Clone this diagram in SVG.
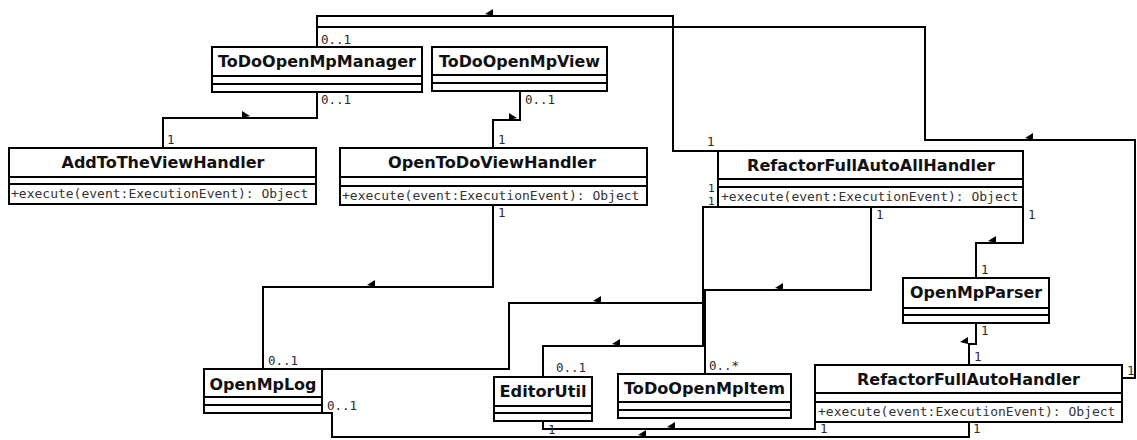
<svg xmlns="http://www.w3.org/2000/svg" xmlns:xlink="http://www.w3.org/1999/xlink" width="1137" height="440" viewBox="0 0 1137 440">
<style>
.box{fill:#fff;stroke:#000;stroke-width:2}
.sep{stroke:#000;stroke-width:2}
.title{font-family:"DejaVu Sans",sans-serif;font-weight:bold;font-size:16px;fill:#111;text-anchor:middle}
.op{font-family:"DejaVu Sans Mono","Liberation Mono",monospace;font-size:13px;fill:#333}
.lbl{font-family:"DejaVu Sans Mono","Liberation Mono",monospace;font-size:12.5px;fill:#2a2a2a}
.sm{font-size:11px}
.conn{fill:none;stroke:#000;stroke-width:2}
.ah{fill:#000}
</style>
<defs>
<polygon id="al" points="-4,-2 4,-7 4,0"/>
<polygon id="ar" points="4,-2 -4,-7 -4,0"/>
</defs>
<rect width="1137" height="440" fill="#fff"/>
<g id="connectors">
<path class="conn" d="M317,47 V16 H673 V151 H718"/>
<path class="conn" d="M317,27 H925 V140 H1135 V378 H1122"/>
<path class="conn" d="M317,92 V118 H163 V148"/>
<path class="conn" d="M520,91 V120 H493 V148"/>
<path class="conn" d="M493,205 V287 H263 V369"/>
<path class="conn" d="M322,369 H509 V303 H703 V207 H718"/>
<path class="conn" d="M543,377 V346 H703 V207"/>
<path class="conn" d="M705,374 V290 H871 V207"/>
<path class="conn" d="M1023,207 V243 H976 V278"/>
<path class="conn" d="M976,323 V344 H969 V365"/>
<path class="conn" d="M815,422 V429 H543 V421"/>
<path class="conn" d="M322,413 H332 V437 H969 V422"/>
<g class="ah">
<use xlink:href="#al" x="489" y="16"/>
<use xlink:href="#al" x="1029" y="140"/>
<use xlink:href="#ar" x="246" y="118"/>
<use xlink:href="#ar" x="513" y="120"/>
<use xlink:href="#al" x="371" y="287"/>
<use xlink:href="#al" x="597" y="303"/>
<use xlink:href="#al" x="616" y="346"/>
<use xlink:href="#al" x="779" y="290"/>
<use xlink:href="#al" x="992" y="243"/>
<use xlink:href="#al" x="964" y="344"/>
<use xlink:href="#al" x="671" y="429"/>
<use xlink:href="#al" x="642" y="437"/>
</g>
<g class="lbl">
<text x="321" y="44">0..1</text>
<text x="321" y="104">0..1</text>
<text x="525" y="104">0..1</text>
<text x="167" y="144">1</text>
<text x="498" y="144">1</text>
<text x="498" y="217">1</text>
<text x="268" y="365">0..1</text>
<text x="556" y="372">0..1</text>
<text x="709" y="370">0..*</text>
<text x="707" y="146">1</text>
<text class="sm" x="708" y="192">1</text>
<text class="sm" x="708" y="205">1</text>
<text x="876" y="219">1</text>
<text x="1028" y="219">1</text>
<text x="981" y="274">1</text>
<text x="981" y="335">1</text>
<text x="974" y="361">1</text>
<text x="1127" y="375">1</text>
<text x="548" y="434">1</text>
<text x="820" y="433">1</text>
<text x="973" y="433">1</text>
<text x="327" y="410">0..1</text>
</g>
</g>
<g id="ToDoOpenMpManager">
<rect class="box" x="212" y="47" width="210" height="45"/>
<line class="sep" x1="212" y1="76" x2="422" y2="76"/>
<line class="sep" x1="212" y1="84" x2="422" y2="84"/>
<text class="title" x="317" y="67" textLength="198" lengthAdjust="spacingAndGlyphs">ToDoOpenMpManager</text>
</g>
<g id="ToDoOpenMpView">
<rect class="box" x="432" y="47" width="175" height="44"/>
<line class="sep" x1="432" y1="75" x2="607" y2="75"/>
<line class="sep" x1="432" y1="83" x2="607" y2="83"/>
<text class="title" x="519.5" y="67" textLength="161" lengthAdjust="spacingAndGlyphs">ToDoOpenMpView</text>
</g>
<g id="AddToTheViewHandler">
<rect class="box" x="9" y="148" width="307" height="56"/>
<line class="sep" x1="9" y1="177" x2="316" y2="177"/>
<line class="sep" x1="9" y1="184" x2="316" y2="184"/>
<text class="title" x="163" y="168" textLength="203" lengthAdjust="spacingAndGlyphs">AddToTheViewHandler</text>
<text class="op" x="11" y="198">+execute(event:ExecutionEvent): Object</text>
</g>
<g id="OpenToDoViewHandler">
<rect class="box" x="340" y="148" width="307" height="57"/>
<line class="sep" x1="340" y1="177" x2="647" y2="177"/>
<line class="sep" x1="340" y1="186" x2="647" y2="186"/>
<text class="title" x="492" y="168" textLength="208" lengthAdjust="spacingAndGlyphs">OpenToDoViewHandler</text>
<text class="op" x="342" y="200">+execute(event:ExecutionEvent): Object</text>
</g>
<g id="RefactorFullAutoAllHandler">
<rect class="box" x="718" y="151" width="305" height="56"/>
<line class="sep" x1="718" y1="179" x2="1023" y2="179"/>
<line class="sep" x1="718" y1="187" x2="1023" y2="187"/>
<text class="title" x="871" y="171" textLength="248" lengthAdjust="spacingAndGlyphs">RefactorFullAutoAllHandler</text>
<text class="op" x="721" y="201">+execute(event:ExecutionEvent): Object</text>
</g>
<g id="OpenMpParser">
<rect class="box" x="903" y="278" width="146" height="45"/>
<line class="sep" x1="903" y1="308" x2="1049" y2="308"/>
<line class="sep" x1="903" y1="315" x2="1049" y2="315"/>
<text class="title" x="976" y="298" textLength="132" lengthAdjust="spacingAndGlyphs">OpenMpParser</text>
</g>
<g id="RefactorFullAutoHandler">
<rect class="box" x="815" y="365" width="307" height="57"/>
<line class="sep" x1="815" y1="393" x2="1122" y2="393"/>
<line class="sep" x1="815" y1="402" x2="1122" y2="402"/>
<text class="title" x="968.5" y="385" textLength="223" lengthAdjust="spacingAndGlyphs">RefactorFullAutoHandler</text>
<text class="op" x="818" y="416">+execute(event:ExecutionEvent): Object</text>
</g>
<g id="OpenMpLog">
<rect class="box" x="204" y="369" width="118" height="44"/>
<line class="sep" x1="204" y1="397" x2="322" y2="397"/>
<line class="sep" x1="204" y1="405" x2="322" y2="405"/>
<text class="title" x="263" y="390" textLength="107" lengthAdjust="spacingAndGlyphs">OpenMpLog</text>
</g>
<g id="EditorUtil">
<rect class="box" x="494" y="377" width="98" height="44"/>
<line class="sep" x1="494" y1="406" x2="592" y2="406"/>
<line class="sep" x1="494" y1="413" x2="592" y2="413"/>
<text class="title" x="543" y="397" textLength="87" lengthAdjust="spacingAndGlyphs">EditorUtil</text>
</g>
<g id="ToDoOpenMpItem">
<rect class="box" x="618" y="374" width="173" height="44"/>
<line class="sep" x1="618" y1="402" x2="791" y2="402"/>
<line class="sep" x1="618" y1="410" x2="791" y2="410"/>
<text class="title" x="704.5" y="394" textLength="161" lengthAdjust="spacingAndGlyphs">ToDoOpenMpItem</text>
</g>
</svg>
